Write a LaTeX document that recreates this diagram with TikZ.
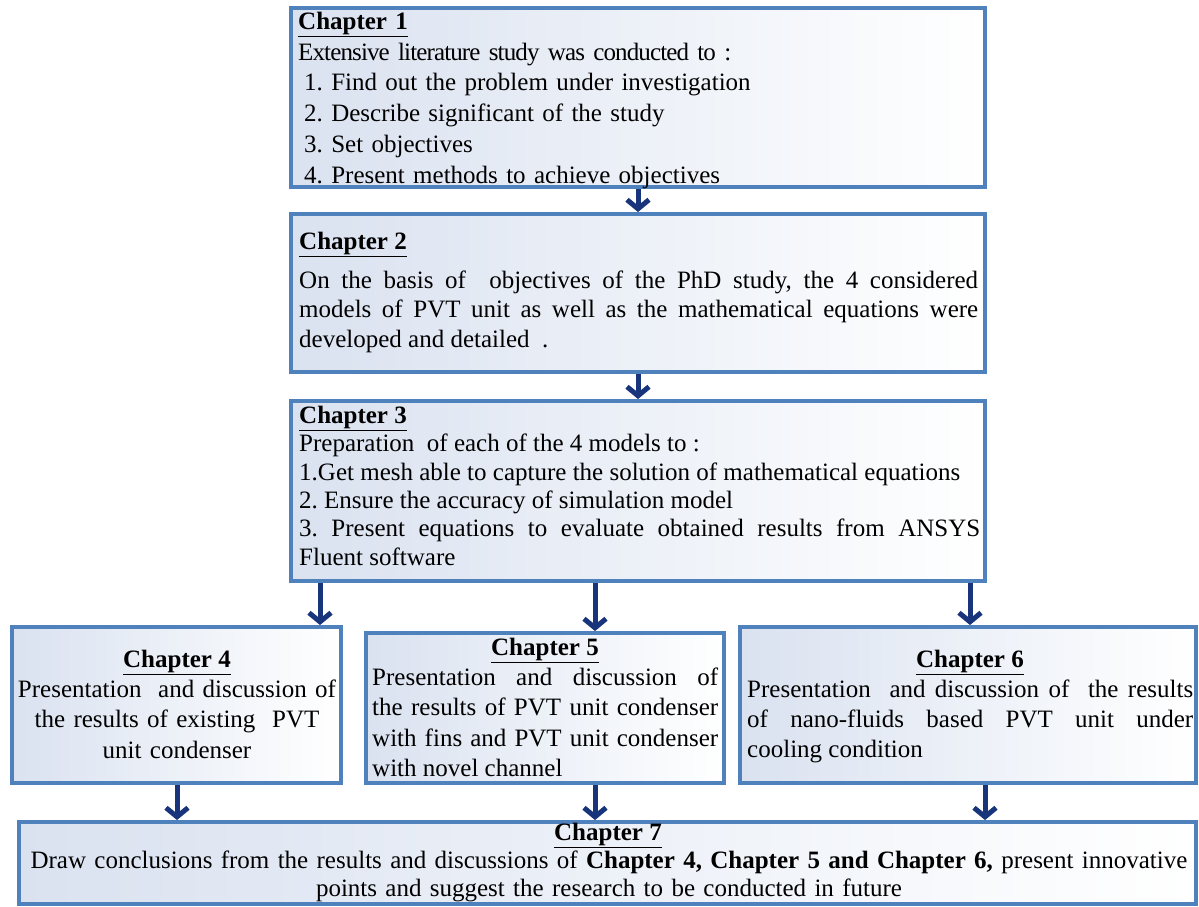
\documentclass[tikz,border=0pt]{standalone}
\usepackage{fontspec}
\setmainfont{Liberation Serif}
\usetikzlibrary{arrows.meta}
\frenchspacing

\definecolor{boxline}{RGB}{79,129,189}
\definecolor{boxshade}{RGB}{218,226,240}
\definecolor{arrowblue}{RGB}{24,52,122}

% bold underlined chapter heading
\newcommand{\chaphead}[1]{\underline{\textbf{#1}}}
% invisible strut fixing the first baseline 20pt below the node top
\newcommand{\firstline}{\rule{0pt}{20pt}}

\begin{document}
\begin{tikzpicture}[x=1pt,y=-1pt,
  chapbox/.style={draw=boxline,line width=4pt,left color=boxshade,right color=white,inner sep=0pt},
  body/.style={inner sep=0pt,anchor=north west},
  head/.style={inner sep=0pt,anchor=base,font=\fontsize{25}{30}\selectfont},
  link/.style={draw=arrowblue,line width=5pt,-{Straight Barb[length=9pt,width=22pt]}}]

\fill[white] (0,0) rectangle (1199,906);
\useasboundingbox (0,0) rectangle (1199,906);

% ---------- boxes ----------
\node[chapbox,minimum width=694pt,minimum height=179pt] (b1) at (638,97.5) {};
\node[chapbox,minimum width=694pt,minimum height=158pt] (b2) at (638,293) {};
\node[chapbox,minimum width=694pt,minimum height=180pt] (b3) at (638,491) {};
\node[chapbox,minimum width=329pt,minimum height=156pt] (b4) at (176.5,705) {};
\node[chapbox,minimum width=358pt,minimum height=150pt] (b5) at (545,708) {};
\node[chapbox,minimum width=456pt,minimum height=156pt] (b6) at (968,705) {};
\node[chapbox,minimum width=1177pt,minimum height=82pt] (b7) at (607.5,863) {};

% ---------- texts ----------
\node[body,text width=680pt,align=left,font=\fontsize{25}{30.8}\selectfont] (t1) at (298,9)
  {\firstline\chaphead{Chapter 1}\\
   {\addfontfeature{LetterSpace=-3.5}Extensive literature study was conducted to :}\\
   \hspace*{6pt}1. Find out the problem under investigation\\
   \hspace*{6pt}2. Describe significant of the study\\
   \hspace*{6pt}3. Set objectives\\
   \hspace*{6pt}4. Present methods to achieve objectives};

\node[head,anchor=base west] (h2) at (299,249) {\chaphead{Chapter 2}};
\node[body,text width=679pt,align=justify,font=\fontsize{25}{29.5}\selectfont] (t2) at (299,268)
  {\firstline On the basis of\ \ objectives of the PhD study, the 4 considered\linebreak
   models of PVT unit as well as the mathematical equations were\linebreak
   developed and detailed\ \ .};

\node[body,text width=681pt,align=justify,font=\fontsize{25}{28.4}\selectfont] (t3) at (299,403)
  {\firstline\chaphead{Chapter 3}\\
   Preparation\ \ of each of the 4 models to :\\
   1.Get mesh able to capture the solution of mathematical equations\\
   2. Ensure the accuracy of simulation model\\
   3. Present equations to evaluate obtained results from ANSYS\linebreak
   Fluent software};

\node[head] (h4) at (177,667) {\chaphead{Chapter 4}};
\node[body,anchor=north,text width=325pt,align=center,font=\fontsize{25}{30.5}\selectfont] (t4) at (177,677)
  {\firstline Presentation\ \ and discussion of\\
   the results of existing\ \ PVT\\
   unit condenser};

\node[head] (h5) at (545,655) {\chaphead{Chapter 5}};
\node[body,text width=346pt,align=justify,font=\fontsize{25}{30.5}\selectfont] (t5) at (372,665)
  {\firstline Presentation and discussion of\linebreak
   the results of PVT unit condenser\linebreak
   with fins and PVT unit condenser\linebreak
   with novel channel};

\node[head] (h6) at (970,667) {\chaphead{Chapter 6}};
\node[body,text width=446pt,align=justify,font=\fontsize{25}{30}\selectfont] (t6) at (747,677)
  {\firstline Presentation\ \ and discussion of\ \ the results\linebreak
   of nano-fluids based PVT unit under\linebreak
   cooling condition};

\node[head] (h7) at (608,840) {\chaphead{Chapter 7}};
\node[body,anchor=north,text width=1170pt,align=center,font=\fontsize{25}{28.5}\selectfont] (t7) at (609,848)
  {\firstline Draw conclusions from the results and discussions of \textbf{Chapter 4, Chapter 5 and Chapter 6,} present innovative\\
   points and suggest the research to be conducted in future};

% ---------- connectors ----------
\coordinate (c4) at (320,0);
\coordinate (c5) at (595,0);
\coordinate (c6) at (970,0);
\coordinate (d4) at (177,0);
\coordinate (d5) at (595,0);
\coordinate (d6) at (985,0);

\draw[link] (b1.south) -- (b2.north);
\draw[link] (b2.south) -- (b3.north);
\draw[link] (b3.south -| c4) -- (b4.north -| c4);
\draw[link] (b3.south -| c5) -- (b5.north -| c5);
\draw[link] (b3.south -| c6) -- (b6.north -| c6);
\draw[link] (b4.south -| d4) -- (b7.north -| d4);
\draw[link] (b5.south -| d5) -- (b7.north -| d5);
\draw[link] (b6.south -| d6) -- (b7.north -| d6);
\end{tikzpicture}
\end{document}
